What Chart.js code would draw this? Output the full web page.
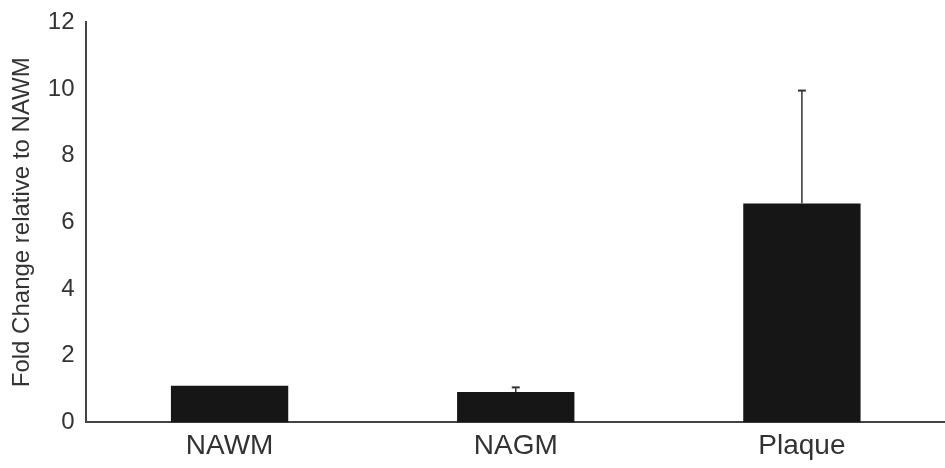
<!DOCTYPE html>
<html>
<head>
<meta charset="utf-8">
<script src="https://cdn.jsdelivr.net/npm/chart.js@4"></script>
<style>
  body { margin: 0; background: #fff; }
</style>
</head>
<body>
<canvas id="myChart" width="945" height="468"></canvas>
<script>
const categories = ['NAWM', 'NAGM', 'Plaque'];
const foldChange = [1.10, 0.91, 6.56];
const errorUp = [0, 0.14, 3.39];
const yTicks = [0, 2, 4, 6, 8, 10, 12];

// draws the upper half of the error bars from the scale positions
const errorBars = {
  id: 'errorBars',
  afterDatasetsDraw(chart) {
    const ctx = chart.ctx;
    const x = chart.scales.x;
    const y = chart.scales.y;
    ctx.save();
    ctx.strokeStyle = '#333';
    foldChange.forEach((v, i) => {
      if (!errorUp[i]) return;
      const px = x.getPixelForValue(i);
      const top = y.getPixelForValue(v + errorUp[i]);
      const base = y.getPixelForValue(v);
      ctx.lineWidth = 1.5;
      ctx.beginPath();
      ctx.moveTo(px, base);
      ctx.lineTo(px, top);
      ctx.stroke();
      ctx.lineWidth = 2;
      ctx.beginPath();
      ctx.moveTo(px - 4, top);
      ctx.lineTo(px + 4, top);
      ctx.stroke();
    });
    ctx.restore();
  }
};

const ctx = document.getElementById('myChart').getContext('2d');
const chart = new Chart(ctx, {
  type: 'bar',
  data: {
    labels: categories,
    datasets: [{
      data: foldChange,
      backgroundColor: '#161616',
      borderColor: '#161616',
      borderWidth: 0,
      categoryPercentage: 1,
      barPercentage: 0.41
    }]
  },
  options: {
    responsive: false,
    animation: false,
    layout: { padding: { top: 0, right: 0, bottom: -2, left: 6 } },
    plugins: {
      legend: { display: false },
      tooltip: { enabled: false }
    },
    scales: {
      x: {
        grid: { display: false, drawTicks: false },
        border: { display: true, color: '#444', width: 2 },
        ticks: {
          color: '#333',
          padding: 7,
          font: { family: 'Liberation Sans, Arial, sans-serif', size: 28 }
        }
      },
      y: {
        min: 0,
        max: 12,
        afterBuildTicks: (scale) => {
          scale.ticks = yTicks.map(v => ({ value: v }));
        },
        grid: { display: false, drawTicks: false },
        border: { display: true, color: '#444', width: 2 },
        ticks: {
          color: '#333',
          padding: 12,
          font: { family: 'Liberation Sans, Arial, sans-serif', size: 24, lineHeight: 0.85 }
        },
        title: {
          display: true,
          text: 'Fold Change relative to NAWM',
          color: '#333',
          padding: { top: 2, bottom: -1 },
          font: { family: 'Liberation Sans, Arial, sans-serif', size: 24 }
        }
      }
    }
  },
  plugins: [errorBars]
});
</script>
</body>
</html>
